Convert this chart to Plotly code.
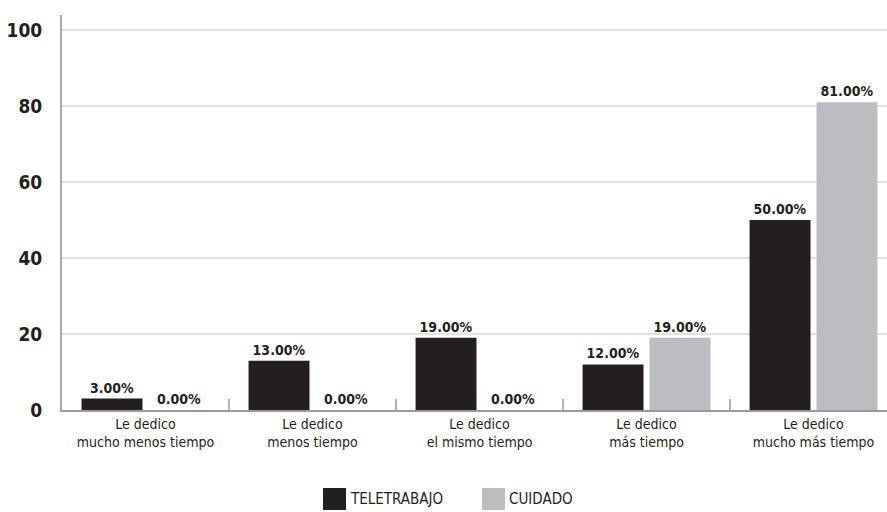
import plotly.graph_objects as go

categories = ["Le dedico<br>mucho menos tiempo", "Le dedico<br>menos tiempo",
              "Le dedico<br>el mismo tiempo", "Le dedico<br>más tiempo",
              "Le dedico<br>mucho más tiempo"]
teletrabajo = [3, 13, 19, 12, 50]
cuidado = [0, 0, 0, 19, 81]
series_names = ["TELETRABAJO", "CUIDADO"]
colors = ["#231f20", "#bcbdc0"]
y_ticks = [0, 20, 40, 60, 80, 100]

FONT = "DejaVu Sans Condensed, sans-serif"

fig = go.Figure()
for name, vals, col in zip(series_names, [teletrabajo, cuidado], colors):
    fig.add_trace(go.Bar(
        x=list(range(len(categories))), y=vals, name=name, marker_color=col,
        marker_line_width=0,
        text=[f"<b>{v:.2f}%</b>" for v in vals], textposition="outside",
        textfont=dict(family=FONT, size=14, color="#231f20"),
        cliponaxis=False, showlegend=False,
    ))

fig.update_layout(
    width=887, height=512, margin=dict(l=62, r=0, t=15, b=102),
    plot_bgcolor="white", paper_bgcolor="white",
    barmode="group", bargap=0.198, bargroupgap=0.09,
    font=dict(family=FONT, color="#231f20"),
    xaxis=dict(
        range=[-0.5, 4.44], tickmode="array", tickvals=list(range(len(categories))),
        ticktext=categories, tickfont=dict(size=14, color="#231f20"),
        showline=True, linecolor="#9a9a9a", linewidth=2,
        ticks="", showgrid=False, zeroline=False,
    ),
    yaxis=dict(
        range=[0, 104], tickmode="array", tickvals=y_ticks,
        ticktext=[f"<b>{t}</b>" for t in y_ticks],
        tickfont=dict(size=19, color="#231f20", family=FONT),
        showgrid=True, gridcolor="#e2e2e2", gridwidth=1.5,
        showline=True, linecolor="#a8a8a8", linewidth=2,
        zeroline=False, ticks="", ticklabelstandoff=14,
    ),
)

# category boundary ticks (inside, pointing up)
for b in [0.5, 1.5, 2.5, 3.5]:
    fig.add_shape(type="line", xref="x", yref="paper", x0=b, x1=b, y0=0, y1=0.028,
                  line=dict(color="#9a9a9a", width=1.5))

# legend
leg = [(323, series_names[0], colors[0]), (482, series_names[1], colors[1])]
for x0, name, col in leg:
    fig.add_shape(type="rect", xref="paper", yref="paper",
                  x0=(x0 - 62) / 825, x1=(x0 + 23 - 62) / 825,
                  y0=(410 - 510) / 395, y1=(410 - 488) / 395,
                  fillcolor=col, line_width=0)
    fig.add_annotation(xref="paper", yref="paper", x=(x0 + 25 - 62) / 825,
                       y=(410 - 499) / 395, text=name, showarrow=False,
                       xanchor="left", yanchor="middle",
                       font=dict(family=FONT, size=15, color="#231f20"))

fig.write_html("out.html")
